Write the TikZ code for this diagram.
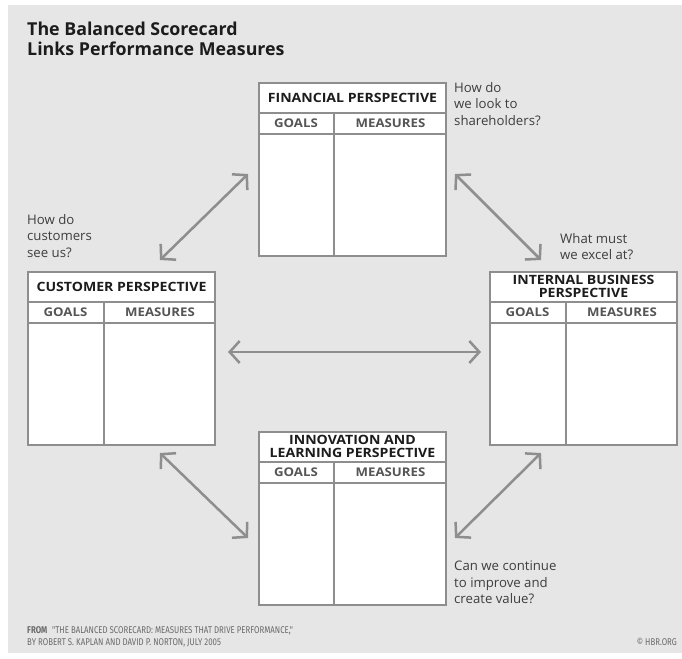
\documentclass[tikz,border=0pt]{standalone}
\usepackage{fontspec}
\setmainfont{Open Sans}
\newfontfamily\widefont[FakeStretch=1.1]{Open Sans}
\newfontfamily\condfont[FakeStretch=0.8]{Fira Sans}
\usetikzlibrary{arrows.meta,calc}
\definecolor{panel}{HTML}{E6E6E6}
\definecolor{rulegray}{HTML}{8E8E8E}
\definecolor{ink}{HTML}{1C1C1C}
\definecolor{headgray}{HTML}{555555}
\definecolor{notegray}{HTML}{6A6A6A}

% One scorecard: #1 name, #2 top-left corner, #3 title row height,
% #4 width of the GOALS column, #5 title
\newcommand\scorecard[5]{%
  \node[card] (#1) at (#2) {};
  \path (#1.north west) ++(0,#3) coordinate (#1-a) ++(0,21) coordinate (#1-b);
  \path (#1.north east) ++(0,#3) coordinate (#1-c) ++(0,21) coordinate (#1-d);
  \path (#1.north west) ++(#4,#3) coordinate (#1-e);
  \path (#1.south west) ++(#4,0) coordinate (#1-f);
  \draw[rule] (#1-a) -- (#1-c) (#1-b) -- (#1-d) (#1-e) -- (#1-f);
  \node[cardtitle] (#1-title) at ($(#1.north west)!0.5!(#1-c)$) {#5};
  \node[colhead] (#1-goals) at ($(#1-a)!0.5!(#1-f |- #1-b)$) {GOALS};
  \node[colhead] (#1-meas) at ($(#1-e)!0.5!(#1-d)$) {MEASURES};
}

\begin{document}
\begin{tikzpicture}[x=1pt,y=-1pt,
  card/.style={draw=rulegray, line width=2pt, fill=white, minimum width=187pt,
    minimum height=173pt, anchor=north west, inner sep=0pt},
  rule/.style={draw=rulegray, line width=2pt},
  cardtitle/.style={font=\widefont\bfseries\fontsize{12.8}{12.5}\selectfont, text=ink, align=center, inner sep=0pt},
  colhead/.style={font=\widefont\bfseries\fontsize{12}{13}\selectfont, text=headgray, inner sep=0pt},
  question/.style={font=\fontsize{13.2}{16.5}\selectfont, text=ink!85, align=left,
    anchor=north west, inner sep=0pt},
  barb/.tip={Straight Barb[length=10pt,width=22pt]},
  link/.style={draw=rulegray, line width=2.5pt, barb-barb},
  footnote/.style={font=\condfont\fontsize{9.8}{12}\selectfont, text=notegray, inner sep=0pt}
]
% panel
\useasboundingbox (0,0) rectangle (682,658);
\fill[panel] (8,5) rectangle (682,653);

% heading
\node[anchor=north west, inner sep=0pt, align=left, text=ink,
  font=\bfseries\fontsize{17.8}{19.5}\selectfont] (heading) at (27,22)
  {The Balanced Scorecard\\Links Performance Measures};

% the four perspectives
\scorecard{fin}{258,82}{31}{76}{FINANCIAL PERSPECTIVE}
\scorecard{cus}{27,271}{31}{77}{CUSTOMER PERSPECTIVE}
\scorecard{int}{489,271}{31}{77}{INTERNAL BUSINESS\\PERSPECTIVE}
\scorecard{inn}{258,431}{31}{76}{INNOVATION AND\\LEARNING PERSPECTIVE}

% questions
\node[question] (qfin) at (454,82) {How do\\we look to\\shareholders?};
\node[question] (qcus) at (27,214) {How do\\customers\\see us?};
\node[question] (qint) at (560,233) {What must\\we excel at?};
\node[question] (qinn) at (454,561) {Can we continue\\to improve and\\create value?};

% links between the perspectives
\coordinate (cusN) at (160,260);
\coordinate (finW) at (248,174);
\coordinate (finE) at (455,174);
\coordinate (intN) at (541,260);
\coordinate (cusE) at (228,352);
\coordinate (intW) at (481,352);
\coordinate (cusS) at (160,453);
\coordinate (innW) at (248,538);
\coordinate (innE) at (455,538);
\coordinate (intS) at (541,453);
\draw[link] (cusN) -- (finW);
\draw[link] (finE) -- (intN);
\draw[link] (cusE) -- (intW);
\draw[link] (cusS) -- (innW);
\draw[link] (innE) -- (intS);

% source line
\node[footnote, anchor=base west] (src1) at (27,633)
  {{\bfseries FROM}\enspace "THE BALANCED SCORECARD: MEASURES THAT DRIVE PERFORMANCE,"};
\node[footnote, anchor=base west] (src2) at (27,645)
  {BY ROBERT S. KAPLAN AND DAVID P. NORTON, JULY 2005};
\node[footnote, anchor=base east] (copy) at (677,645) {© HBR.ORG};
\end{tikzpicture}
\end{document}
